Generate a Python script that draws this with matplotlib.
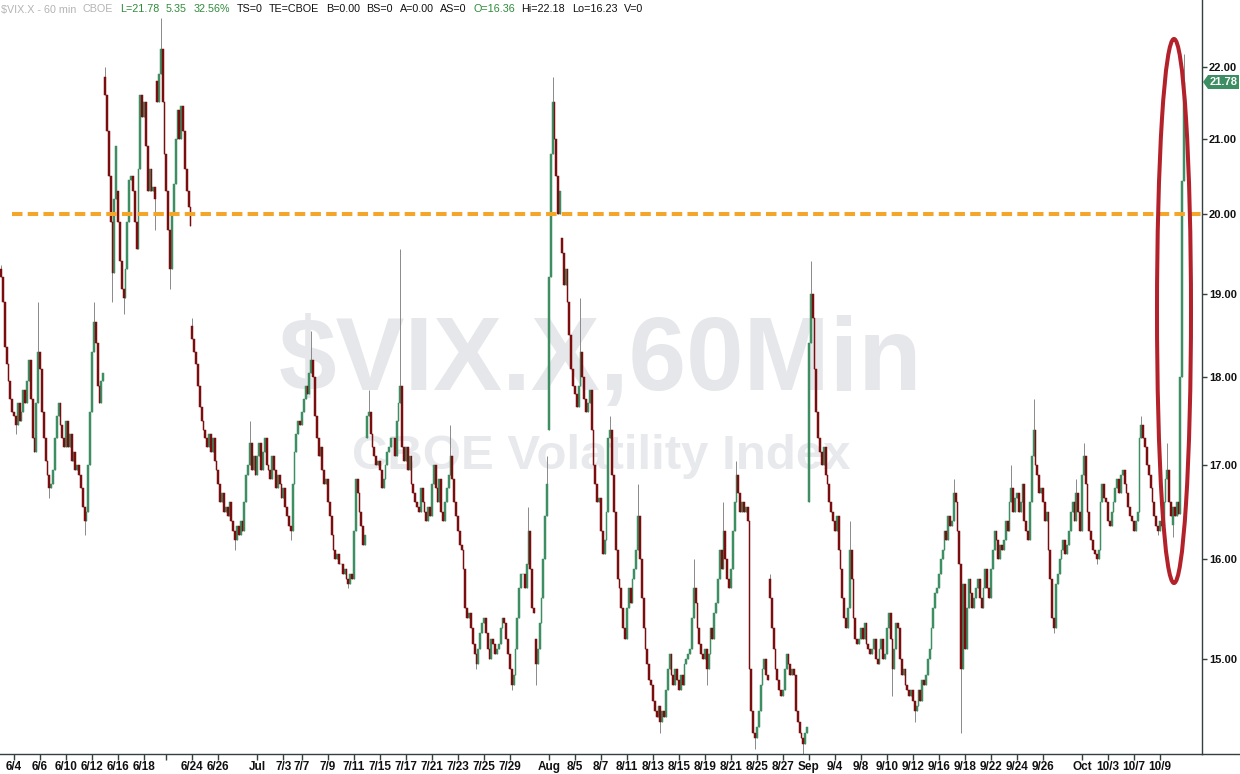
import matplotlib
matplotlib.use("Agg")
import matplotlib.pyplot as plt
from matplotlib.patches import Ellipse, Polygon
from matplotlib.lines import Line2D
from matplotlib.ticker import FixedLocator, NullLocator, FormatStrFormatter
import numpy as np

plt.rcParams['font.family'] = ['Liberation Sans', 'DejaVu Sans']

# ---------------- data ----------------
session_dates = [
    "6/3", "6/4", "6/5", "6/6", "6/9", "6/10", "6/11", "6/12", "6/13", "6/16",
    "6/17", "6/18", "6/19", "6/20", "6/23", "6/24", "6/25", "6/26", "6/27", "6/30",
    "7/1", "7/2", "7/3", "7/7", "7/8", "7/9", "7/10", "7/11", "7/14", "7/15",
    "7/16", "7/17", "7/18", "7/21", "7/22", "7/23", "7/24", "7/25", "7/28", "7/29",
    "7/30", "7/31", "8/1", "8/4", "8/5", "8/6", "8/7", "8/8", "8/11", "8/12",
    "8/13", "8/14", "8/15", "8/18", "8/19", "8/20", "8/21", "8/22", "8/25", "8/26",
    "8/27", "8/28", "9/2", "9/3", "9/4", "9/5", "9/8", "9/9", "9/10", "9/11",
    "9/12", "9/15", "9/16", "9/17", "9/18", "9/19", "9/22", "9/23", "9/24", "9/25",
    "9/26", "9/29", "9/30", "10/1", "10/2", "10/3", "10/6", "10/7", "10/8", "10/9",
    "10/10",
]

# hourly closes for each session
session_closes = [
    [19.2, 18.9, 18.35, 18.15, 17.95, 17.75, 17.6],
    [17.55, 17.45, 17.7, 17.5, 17.6, 17.85, 17.7],
    [17.95, 18.2, 17.75, 17.3, 17.15, 17.7, 18.3],
    [18.1, 17.6, 17.3, 17.05, 16.9, 16.75, 16.8],
    [16.95, 17.3, 17.55, 17.7, 17.45, 17.3, 17.2],
    [17.5, 17.2, 17.35, 17.05, 17.15, 16.95, 17.0],
    [16.9, 16.75, 16.55, 16.4, 16.5, 17.0, 17.6],
    [18.3, 18.65, 18.4, 17.9, 17.7, 17.95, 18.05],
    [21.6, 21.1, 20.5, 19.9, 19.25, 20.2, 20.9],
    [19.9, 19.4, 19.05, 18.95, 19.3, 19.9, 20.45],
    [20.5, 20.3, 19.9, 19.55, 20.6, 21.6, 21.3],
    [21.5, 20.9, 20.3, 20.6, 20.3, 20.35, 20.2],
    [21.5, 21.9, 22.25, 21.5, 20.8],
    [20.3, 19.8, 19.3, 20.0, 20.4, 21.0, 21.4],
    [21.0, 21.45, 21.1, 20.6, 20.3, 20.1, 19.85],
    [18.45, 18.3, 18.15, 17.9, 17.65, 17.5, 17.4],
    [17.3, 17.2, 17.35, 17.15, 17.3, 17.05, 16.95],
    [16.8, 16.6, 16.7, 16.5, 16.55, 16.45, 16.6],
    [16.4, 16.3, 16.2, 16.35, 16.25, 16.4, 16.3],
    [16.6, 16.9, 17.0, 17.25, 16.95, 17.1, 16.9],
    [17.1, 17.25, 16.95, 17.15, 17.3, 17.0, 16.95],
    [16.85, 17.1, 16.95, 16.75, 16.9, 16.8, 16.65],
    [16.75, 16.55, 16.45, 16.35, 16.3, 16.8, 17.15, 17.35, 17.5, 17.45],
    [17.6, 17.75, 17.9, 17.8, 18.05, 18.2, 18.0],
    [17.55, 17.3, 17.1, 17.2, 16.95, 16.8, 16.85],
    [16.6, 16.45, 16.25, 16.1, 16.0, 16.05, 15.95],
    [15.95, 15.85, 15.9, 15.8, 15.75, 15.85, 15.8],
    [16.3, 16.85, 16.7, 16.5, 16.35, 16.15, 16.25],
    [17.55, 17.6, 17.35, 17.2, 17.1, 17.0, 17.05],
    [16.95, 16.75, 16.85, 17.0, 17.15, 17.2, 17.3],
    [17.3, 17.1, 17.5, 17.7, 17.9, 17.2, 17.05],
    [17.2, 16.95, 17.1, 16.8, 16.7, 16.6, 16.55],
    [16.5, 16.75, 16.6, 16.5, 16.4, 16.55, 16.45],
    [16.8, 17.0, 16.75, 16.6, 16.85, 16.5, 16.4],
    [16.6, 16.75, 16.9, 17.1, 16.85, 16.6, 16.45],
    [16.3, 16.15, 16.1, 15.9, 15.5, 15.4, 15.45],
    [15.3, 15.15, 15.05, 14.95, 15.1, 15.25, 15.35],
    [15.4, 15.25, 15.1, 15.0, 15.2, 15.15, 15.05],
    [15.1, 15.15, 15.3, 15.4, 15.35, 15.2, 15.05],
    [14.9, 14.75, 14.85, 15.1, 15.4, 15.7, 15.85],
    [15.85, 15.7, 15.95, 16.3, 15.9, 15.5, 15.45],
    [14.95, 15.1, 15.35, 15.6, 16.0, 16.45, 16.8],
    [19.2, 20.8, 21.5, 21.0, 20.5, 20.0, 20.3],
    [19.5, 19.1, 19.3, 18.9, 18.5, 18.1, 17.9],
    [17.8, 17.65, 17.9, 18.3, 18.0, 17.75, 17.6],
    [17.7, 17.85, 17.4, 17.0, 16.8, 16.6, 16.65],
    [16.3, 16.05, 16.2, 16.5, 17.3, 17.4, 16.9],
    [16.5, 16.1, 15.8, 15.7, 15.5, 15.3, 15.2],
    [15.5, 15.7, 15.55, 15.8, 15.9, 16.1, 16.45],
    [16.0, 15.6, 15.3, 15.1, 14.95, 14.8, 14.75],
    [14.6, 14.5, 14.45, 14.55, 14.4, 14.5, 14.45],
    [14.7, 14.9, 15.05, 14.85, 14.75, 14.9, 14.8],
    [14.7, 14.85, 14.75, 14.95, 15.0, 15.05, 15.1],
    [15.4, 15.7, 15.55, 15.3, 15.15, 15.05, 15.0],
    [15.1, 14.9, 15.05, 15.3, 15.2, 15.45, 15.55],
    [15.8, 16.1, 15.9, 16.3, 16.0, 15.8, 15.7],
    [15.9, 16.3, 16.6, 16.9, 16.7, 16.5, 16.6],
    [16.5, 16.55, 16.4, 14.9, 14.5, 14.3, 14.25],
    [14.35, 14.5, 14.75, 14.9, 15.0, 14.85, 14.8],
    [15.6, 15.3, 15.1, 14.9, 14.8, 14.7, 14.65],
    [14.7, 14.9, 15.05, 14.95, 14.85, 14.9, 14.85],
    [14.5, 14.4, 14.3, 14.25, 14.2, 14.3, 14.35],
    [18.4, 19.0, 18.7, 18.1, 17.6, 17.3, 17.15],
    [17.0, 17.2, 16.9, 16.8, 16.6, 16.5, 16.4],
    [16.3, 16.45, 16.1, 15.9, 15.6, 15.4, 15.3],
    [15.5, 16.1, 15.8, 15.4, 15.2, 15.15, 15.2],
    [15.3, 15.2, 15.35, 15.15, 15.1, 15.05, 15.1],
    [15.2, 15.0, 14.95, 15.1, 15.2, 15.0, 15.05],
    [15.3, 15.45, 15.2, 14.9, 15.1, 15.35, 15.3],
    [15.0, 14.85, 14.9, 14.75, 14.7, 14.65, 14.7],
    [14.6, 14.5, 14.55, 14.7, 14.6, 14.8, 14.75],
    [14.85, 15.0, 15.1, 15.3, 15.5, 15.65, 15.7],
    [15.85, 16.0, 16.1, 16.3, 16.2, 16.45, 16.35],
    [16.4, 16.7, 16.6, 16.3, 15.95, 14.9, 15.75],
    [15.1, 15.5, 15.8, 15.65, 15.5, 15.6, 15.7],
    [15.8, 15.6, 15.5, 15.7, 15.9, 15.7, 15.6],
    [15.9, 16.1, 16.3, 16.2, 16.0, 16.15, 16.1],
    [16.2, 16.4, 16.3, 16.6, 16.75, 16.5, 16.65],
    [16.7, 16.5, 16.6, 16.8, 16.4, 16.3, 16.2],
    [16.6, 17.1, 17.4, 17.0, 16.9, 16.7, 16.75],
    [16.6, 16.4, 16.5, 16.1, 15.8, 15.4, 15.3],
    [15.75, 15.85, 16.0, 16.1, 16.2, 16.05, 16.15],
    [16.3, 16.5, 16.6, 16.4, 16.7, 16.5, 16.3],
    [16.9, 17.1, 16.8, 16.5, 16.3, 16.2, 16.1],
    [16.05, 16.0, 16.1, 16.6, 16.8, 16.65, 16.6],
    [16.4, 16.35, 16.5, 16.6, 16.75, 16.85, 16.7],
    [16.9, 16.95, 16.8, 16.7, 16.55, 16.45, 16.4],
    [16.3, 16.4, 16.5, 17.3, 17.45, 17.3, 17.2],
    [17.0, 16.9, 16.75, 16.6, 16.45, 16.35, 16.3],
    [16.4, 16.35, 16.6, 16.85, 16.95, 16.6, 16.45],
    [16.55, 16.45, 16.6, 16.47, 18.0, 20.43, 21.78],
]

# session opens that gap away from the prior close
gap_opens = {"6/3": 19.3, "6/13": 21.85, "6/16": 20.3, "6/19": 21.8, "6/24": 18.6,
             "7/14": 17.3, "7/31": 15.2, "8/1": 17.4, "8/4": 19.7, "8/26": 15.8,
             "9/2": 16.6, "10/10": 16.36}

# notable session highs / lows (wicks)
day_highs = {"6/3": 19.35, "6/5": 18.9, "6/12": 18.9, "6/13": 22.0, "6/19": 22.7,
             "6/24": 18.7, "6/30": 17.5, "7/7": 18.55, "7/14": 17.85, "7/16": 19.55,
             "7/22": 17.45, "7/30": 16.55, "7/31": 17.1, "8/1": 21.85, "8/5": 18.95,
             "8/7": 17.55, "8/11": 16.8, "8/18": 16.0, "8/20": 16.6, "8/21": 17.05,
             "8/26": 15.85, "9/2": 19.4, "9/5": 16.4, "9/17": 16.85, "9/23": 17.0,
             "9/25": 17.75, "9/30": 16.85, "10/1": 17.25, "10/7": 17.55, "10/9": 17.25,
             "10/10": 22.18}
day_lows = {"6/4": 17.35, "6/6": 16.65, "6/11": 16.25, "6/13": 18.9, "6/16": 18.75,
            "6/18": 19.8, "6/20": 19.05, "6/27": 16.1, "7/3": 16.2, "7/10": 15.7,
            "7/24": 14.9, "7/29": 14.7, "7/31": 14.75, "8/13": 14.3, "8/19": 14.75,
            "8/22": 14.15, "8/28": 14.05, "9/10": 14.65, "9/12": 14.4, "9/17": 14.3,
            "9/26": 15.25, "10/2": 15.95, "10/8": 16.25, "10/10": 16.23}

tick_dates = ["6/4", "6/6", "6/10", "6/12", "6/16", "6/18", "6/20", "6/24", "6/26",
              "7/1", "7/3", "7/7", "7/9", "7/11", "7/15", "7/17", "7/21", "7/23",
              "7/25", "7/29", "8/1", "8/5", "8/7", "8/11", "8/13", "8/15", "8/19",
              "8/21", "8/25", "8/27", "9/2", "9/4", "9/8", "9/10", "9/12", "9/16",
              "9/18", "9/22", "9/24", "9/26", "10/1", "10/3", "10/7", "10/9"]
tick_labels = ["6/4", "6/6", "6/10", "6/12", "6/16", "6/18", "", "6/24", "6/26",
               "Jul", "7/3", "7/7", "7/9", "7/11", "7/15", "7/17", "7/21", "7/23",
               "7/25", "7/29", "Aug", "8/5", "8/7", "8/11", "8/13", "8/15", "8/19",
               "8/21", "8/25", "8/27", "Sep", "9/4", "9/8", "9/10", "9/12", "9/16",
               "9/18", "9/22", "9/24", "9/26", "Oct", "10/3", "10/7", "10/9"]

ytick_values = [15, 16, 17, 18, 19, 20, 21, 22]
ref_level = 20.0
last_price = 21.78

header_parts = [("$VIX.X - 60 min", "#b4b4b4"), ("CBOE", "#b4b4b4"),
                ("L=21.78", "#2e8b3a"), ("5.35", "#2e8b3a"), ("32.56%", "#2e8b3a"),
                ("TS=0", "#111111"), ("TE=CBOE", "#111111"), ("B=0.00", "#111111"),
                ("BS=0", "#111111"), ("A=0.00", "#111111"), ("AS=0", "#111111"),
                ("O=16.36", "#2e8b3a"), ("Hi=22.18", "#111111"), ("Lo=16.23", "#111111"),
                ("V=0", "#111111")]
watermark_title = "$VIX.X,60Min"
watermark_sub = "CBOE Volatility Index"

# ---------------- build OHLC ----------------
opens, closes, highs, lows = [], [], [], []
session_start = {}
prev = None
for date, cl in zip(session_dates, session_closes):
    session_start[date] = len(closes)
    p = gap_opens.get(date, prev if prev is not None else cl[0])
    d_o, d_c = [], []
    for v in cl:
        d_o.append(p)
        d_c.append(v)
        p = v
    d_h = [max(a, b) for a, b in zip(d_o, d_c)]
    d_l = [min(a, b) for a, b in zip(d_o, d_c)]
    if date in day_highs:
        k = int(np.argmax(d_h))
        d_h[k] = max(d_h[k], day_highs[date])
    if date in day_lows:
        k = int(np.argmin(d_l))
        d_l[k] = min(d_l[k], day_lows[date])
    opens += d_o
    closes += d_c
    highs += d_h
    lows += d_l
    prev = cl[-1]

opens = np.array(opens)
closes = np.array(closes)
highs = np.array(highs)
lows = np.array(lows)
xb = np.arange(len(closes))

# ---------------- figure ----------------
W, H = 1240, 774
fig = plt.figure(figsize=(W / 100, H / 100), dpi=100)
fig.patch.set_facecolor("white")

bar_px = 13 / 7.0
ax_right_px = 1202
ax_bottom_px = 754
ax = fig.add_axes([0, 1 - ax_bottom_px / H, ax_right_px / W, ax_bottom_px / H])
ax.set_facecolor("white")

GREEN = "#3e8e63"
RED = "#7a0e0e"
WICK = "#8a8a8a"
AXC = "#33403f"

up = closes >= opens
ax.vlines(xb, lows, highs, color=WICK, lw=0.7, zorder=2)
bottoms = np.minimum(opens, closes)
heights = np.abs(closes - opens)
ax.bar(xb[up], heights[up], bottom=bottoms[up], width=1.0, color=GREEN,
       edgecolor=GREEN, linewidth=0.35, zorder=3)
ax.bar(xb[~up], heights[~up], bottom=bottoms[~up], width=1.0, color=RED,
       edgecolor=RED, linewidth=0.35, zorder=3)

# reference line at 20
ax.axhline(ref_level, xmin=12 / ax_right_px, xmax=1.0, color="#f4a62a", lw=2.9,
           dashes=(2.6, 1.3), zorder=4)

ax.set_yscale("log")
ax.set_xlim(-1 / bar_px, (ax_right_px - 1) / bar_px)
y_top = 15 * np.exp(659 / 1546.0)
y_bot = 15 * np.exp((659 - ax_bottom_px) / 1546.0)
ax.set_ylim(y_bot, y_top)

ax.yaxis.set_major_locator(FixedLocator(ytick_values))
ax.yaxis.set_minor_locator(NullLocator())
ax.yaxis.set_major_formatter(FormatStrFormatter("%.2f"))
ax.yaxis.tick_right()
ax.tick_params(axis="y", which="major", right=True, left=False, labelright=True,
               labelleft=False, length=3.5, width=1, pad=1.5, labelsize=8,
               color=AXC, labelcolor="#111111")
for lab in ax.get_yticklabels():
    lab.set_fontweight("bold")

ax.set_xticks([session_start[d] for d in tick_dates])
ax.set_xticklabels(tick_labels)
ax.tick_params(axis="x", which="major", bottom=True, length=4, width=1, pad=1,
               labelsize=8.5, color=AXC, labelcolor="#111111")
for lab in ax.get_xticklabels():
    lab.set_fontweight("bold")

for s in ["left", "top"]:
    ax.spines[s].set_visible(False)
for s in ["right", "bottom"]:
    ax.spines[s].set_color(AXC)
    ax.spines[s].set_linewidth(1.0)

# bottom line continues to the right edge
fig.add_artist(Line2D([ax_right_px / W, 1.0], [1 - ax_bottom_px / H] * 2,
                      transform=fig.transFigure, color=AXC, lw=1.0))

# watermark
fig.canvas.draw()
r = fig.canvas.get_renderer()


def fit_text(txt, cx, base_y, target_w, size0, **kw):
    t = ax.text(cx / W, 1 - base_y / H, txt, transform=fig.transFigure,
                fontsize=size0, ha="center", va="baseline", **kw)
    wpx = t.get_window_extent(renderer=r).width
    t.set_fontsize(size0 * target_w / wpx)
    return t


fit_text(watermark_title, 600, 390, 644, 70, fontweight="bold", color="#e6e7eb",
         zorder=1)
fit_text(watermark_sub, 601, 469, 498, 30, fontweight="bold", color="#e8e9ec",
         zorder=1)

# header line
def place_header(size):
    x = 1.0
    arts = []
    for txt, col in header_parts:
        t = fig.text(x / W, 1 - 9.5 / H, txt, color=col, fontsize=size,
                     ha="left", va="center")
        bb = t.get_window_extent(renderer=r)
        arts.append(t)
        x = bb.x1 + size * 0.85
    return arts, x


arts, xend = place_header(7.5)
for a in arts:
    a.remove()
arts, xend = place_header(7.5 * 648 / (xend - 1))

# highlight ellipse around the final spike
fig.add_artist(Ellipse((1174 / W, 1 - 311 / H), 34 / W, 544 / H,
                       transform=fig.transFigure, fill=False, ec="#b3222a", lw=2.9,
                       zorder=5))

# last price label
pts = [(1203, 82), (1208, 75), (1239, 75), (1239, 89), (1208, 89)]
fig.add_artist(Polygon([(px / W, 1 - py / H) for px, py in pts], closed=True,
                       transform=fig.transFigure, fc=GREEN, ec="none", zorder=5))
fig.text(1223.5 / W, 1 - 82 / H, f"{last_price:.2f}", color="white", fontsize=8,
         fontweight="bold", ha="center", va="center", zorder=6)

fig.savefig("out.png", dpi=100, facecolor="white")
